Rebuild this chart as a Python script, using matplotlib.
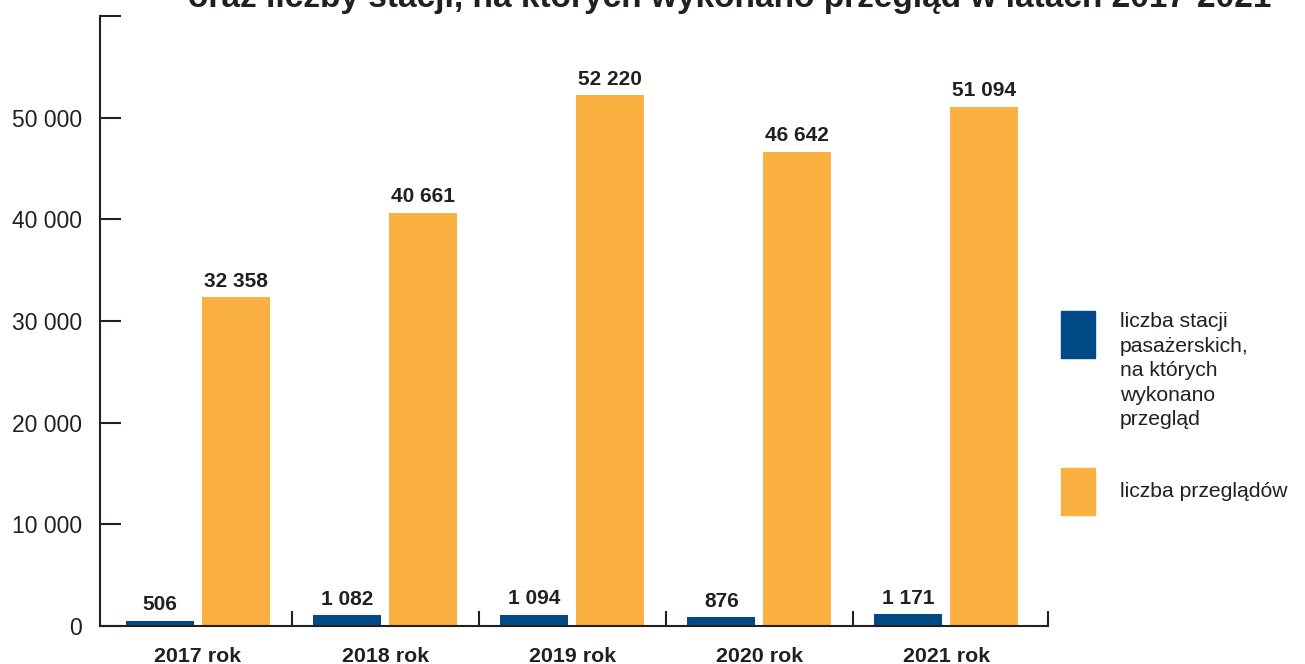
import matplotlib
matplotlib.use("Agg")
import matplotlib.pyplot as plt
from matplotlib.patches import Rectangle
import numpy as np

plt.rcParams['font.family'] = ['Liberation Sans', 'DejaVu Sans']

# data
years = ["2017 rok", "2018 rok", "2019 rok", "2020 rok", "2021 rok"]
stations = [506, 1082, 1094, 876, 1171]
inspections = [32358, 40661, 52220, 46642, 51094]
y_ticks = [0, 10000, 20000, 30000, 40000, 50000, 60000]
y_tick_labels = ["0", "10 000", "20 000", "30 000", "40 000", "50 000", ""]
series_names = ["liczba stacji\npasażerskich,\nna których\nwykonano\nprzegląd",
                "liczba przeglądów"]
title = "oraz liczby stacji, na których wykonano przegląd w latach 2017-2021"

BLUE = "#004b86"
ORANGE = "#fbb042"
INK = "#231f20"

W, H = 1305, 664
fig = plt.figure(figsize=(W / 100, H / 100), dpi=100)
ax = fig.add_axes([100 / W, 1 - 626 / H, 948 / W, 610 / H])

x = np.arange(len(years))
bw = 0.363
off = 0.203
b1 = ax.bar(x - off, stations, bw, color=BLUE, zorder=2)
b2 = ax.bar(x + off, inspections, bw, color=ORANGE, zorder=2)


def fmt(v):
    return f"{v:,}".replace(",", " ")


for bars, vals in ((b1, stations), (b2, inspections)):
    for r, v in zip(bars, vals):
        ax.annotate(fmt(v), (r.get_x() + r.get_width() / 2, v),
                    xytext=(0, 7.5), textcoords="offset points",
                    ha="center", va="baseline", fontsize=15,
                    fontweight="bold", color=INK)

x_right = 4.543
ax.set_xlim(-0.524, x_right)
ax.set_ylim(0, 60000)
ax.set_yticks(y_ticks)
ax.set_yticklabels(y_tick_labels)
ax.set_xticks(x)
ax.set_xticklabels(years, fontweight="bold", fontsize=15.4, color=INK)
ax.set_xticks([0.5, 1.5, 2.5, 3.5, x_right], minor=True)

ax.tick_params(axis="y", direction="in", length=15, width=1.5, color=INK,
               labelsize=16.5, labelcolor=INK, pad=13)
ax.tick_params(axis="x", which="major", length=0, pad=15)
ax.tick_params(axis="x", which="minor", direction="in", length=11,
               width=1.5, color=INK)

for s in ("top", "right"):
    ax.spines[s].set_visible(False)
for s in ("left", "bottom"):
    ax.spines[s].set_color(INK)
    ax.spines[s].set_linewidth(1.5)
    ax.spines[s].set_zorder(3)

fig.text(730 / W, 1 - 7 / H, title, ha="center", va="baseline",
         fontsize=24, fontweight="bold", color=INK)

# legend
for top, col in ((311, BLUE), (468, ORANGE)):
    fig.patches.append(Rectangle((1061 / W, 1 - (top + 47) / H), 34 / W, 47 / H,
                                 transform=fig.transFigure, color=col))
fig.text(1120 / W, 1 - 312 / H, series_names[0], ha="left", va="top",
         fontsize=15.2, color=INK, linespacing=1.37)
fig.text(1120 / W, 1 - 491.5 / H, series_names[1], ha="left", va="center",
         fontsize=15.2, color=INK)

fig.savefig("out.png", dpi=100)
